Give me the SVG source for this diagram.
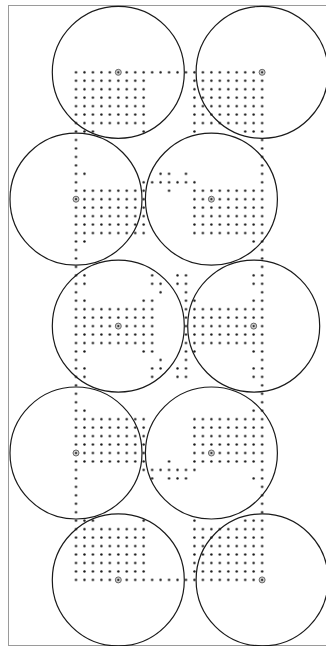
<svg xmlns="http://www.w3.org/2000/svg" width="326" height="646" viewBox="0 0 326 646">
<style>
.ring{fill:none;stroke:#1a1a1a;stroke-width:1.2}
.mk{fill:#c8c8c8;stroke:#6a6a6a;stroke-width:1}
.mkc{fill:#333}
.frame{fill:none;stroke:#9a9a9a;stroke-width:1}
</style>
<defs>
<pattern id="dotgrid" patternUnits="userSpaceOnUse" width="1" height="1">
<circle cx="0.5" cy="0.5" r="0.14" fill="#111"/>
</pattern>
</defs>
<rect width="326" height="646" fill="#fff"/>
<rect class="frame" x="8.5" y="5.5" width="330" height="640"/>
<g id="dot-grid" transform="translate(71.77,68.07) scale(8.46)" fill="url(#dotgrid)">
<rect x="0" y="0" width="23" height="1"/>
<rect x="0" y="1" width="9" height="6"/>
<rect x="14" y="1" width="9" height="6"/>
<rect x="0" y="7" width="3" height="1"/><rect x="8" y="7" width="1" height="1"/><rect x="14" y="7" width="1" height="1"/><rect x="20" y="7" width="3" height="1"/>
<rect x="0" y="8" width="1" height="4"/><rect x="22" y="8" width="1" height="4"/>
<rect x="0" y="12" width="2" height="1"/><rect x="10" y="12" width="2" height="1"/><rect x="13" y="12" width="1" height="1"/><rect x="22" y="12" width="1" height="1"/>
<rect x="0" y="13" width="1" height="1"/><rect x="8" y="13" width="7" height="1"/><rect x="22" y="13" width="1" height="1"/>
<rect x="0" y="14" width="9" height="6"/><rect x="14" y="14" width="9" height="6"/><rect x="11" y="14" width="1" height="1"/>
<rect x="0" y="20" width="2" height="1"/><rect x="21" y="20" width="2" height="1"/>
<rect x="0" y="21" width="1" height="3"/><rect x="22" y="21" width="1" height="3"/>
<rect x="0" y="24" width="2" height="1"/><rect x="9" y="24" width="1" height="1"/><rect x="12" y="24" width="2" height="1"/><rect x="21" y="24" width="2" height="1"/>
<rect x="0" y="25" width="2" height="1"/><rect x="9" y="25" width="2" height="1"/><rect x="12" y="25" width="2" height="1"/><rect x="21" y="25" width="2" height="1"/>
<rect x="0" y="26" width="1" height="1"/><rect x="10" y="26" width="1" height="1"/><rect x="13" y="26" width="1" height="1"/><rect x="22" y="26" width="1" height="1"/>
<rect x="0" y="27" width="2" height="1"/><rect x="8" y="27" width="2" height="1"/><rect x="13" y="27" width="2" height="1"/><rect x="21" y="27" width="2" height="1"/>
<rect x="0" y="28" width="10" height="5"/><rect x="13" y="28" width="10" height="5"/>
<rect x="0" y="33" width="2" height="1"/><rect x="8" y="33" width="2" height="1"/><rect x="13" y="33" width="2" height="1"/><rect x="21" y="33" width="2" height="1"/>
<rect x="0" y="34" width="1" height="1"/><rect x="10" y="34" width="1" height="1"/><rect x="13" y="34" width="1" height="1"/><rect x="22" y="34" width="1" height="1"/>
<rect x="0" y="35" width="2" height="1"/><rect x="9" y="35" width="2" height="1"/><rect x="12" y="35" width="2" height="1"/><rect x="21" y="35" width="2" height="1"/>
<rect x="0" y="36" width="2" height="1"/><rect x="9" y="36" width="1" height="1"/><rect x="12" y="36" width="2" height="1"/><rect x="21" y="36" width="2" height="1"/>
<rect x="0" y="37" width="1" height="3"/><rect x="22" y="37" width="1" height="3"/>
<rect x="0" y="40" width="2" height="1"/><rect x="21" y="40" width="2" height="1"/>
<rect x="0" y="41" width="9" height="6"/><rect x="14" y="41" width="9" height="6"/><rect x="11" y="46" width="1" height="1"/>
<rect x="0" y="47" width="1" height="1"/><rect x="8" y="47" width="7" height="1"/><rect x="22" y="47" width="1" height="1"/>
<rect x="0" y="48" width="1" height="1"/><rect x="9" y="48" width="1" height="1"/><rect x="11" y="48" width="3" height="1"/><rect x="21" y="48" width="2" height="1"/>
<rect x="0" y="49" width="1" height="4"/><rect x="22" y="49" width="1" height="4"/>
<rect x="0" y="53" width="3" height="1"/><rect x="8" y="53" width="1" height="1"/><rect x="14" y="53" width="1" height="1"/><rect x="20" y="53" width="3" height="1"/>
<rect x="0" y="54" width="9" height="6"/><rect x="14" y="54" width="9" height="6"/>
<rect x="0" y="60" width="23" height="1"/>
</g>
<g id="nodes">
<g id="n1"><circle class="ring" cx="118.3" cy="72.3" r="66"/><circle class="mk" cx="118.3" cy="72.3" r="3"/><circle class="mkc" cx="118.3" cy="72.3" r="1.1"/></g>
<g id="n2"><circle class="ring" cx="262.1" cy="72.3" r="66"/><circle class="mk" cx="262.1" cy="72.3" r="3"/><circle class="mkc" cx="262.1" cy="72.3" r="1.1"/></g>
<g id="n3"><circle class="ring" cx="76" cy="199.2" r="66"/><circle class="mk" cx="76" cy="199.2" r="3"/><circle class="mkc" cx="76" cy="199.2" r="1.1"/></g>
<g id="n4"><circle class="ring" cx="211.4" cy="199.2" r="66"/><circle class="mk" cx="211.4" cy="199.2" r="3"/><circle class="mkc" cx="211.4" cy="199.2" r="1.1"/></g>
<g id="n5"><circle class="ring" cx="118.3" cy="326.1" r="66"/><circle class="mk" cx="118.3" cy="326.1" r="3"/><circle class="mkc" cx="118.3" cy="326.1" r="1.1"/></g>
<g id="n6"><circle class="ring" cx="253.7" cy="326.1" r="66"/><circle class="mk" cx="253.7" cy="326.1" r="3"/><circle class="mkc" cx="253.7" cy="326.1" r="1.1"/></g>
<g id="n7"><circle class="ring" cx="76" cy="453" r="66"/><circle class="mk" cx="76" cy="453" r="3"/><circle class="mkc" cx="76" cy="453" r="1.1"/></g>
<g id="n8"><circle class="ring" cx="211.4" cy="453" r="66"/><circle class="mk" cx="211.4" cy="453" r="3"/><circle class="mkc" cx="211.4" cy="453" r="1.1"/></g>
<g id="n9"><circle class="ring" cx="118.3" cy="579.9" r="66"/><circle class="mk" cx="118.3" cy="579.9" r="3"/><circle class="mkc" cx="118.3" cy="579.9" r="1.1"/></g>
<g id="n10"><circle class="ring" cx="262.1" cy="579.9" r="66"/><circle class="mk" cx="262.1" cy="579.9" r="3"/><circle class="mkc" cx="262.1" cy="579.9" r="1.1"/></g>
</g>
<g id="connectors"/>
</svg>
